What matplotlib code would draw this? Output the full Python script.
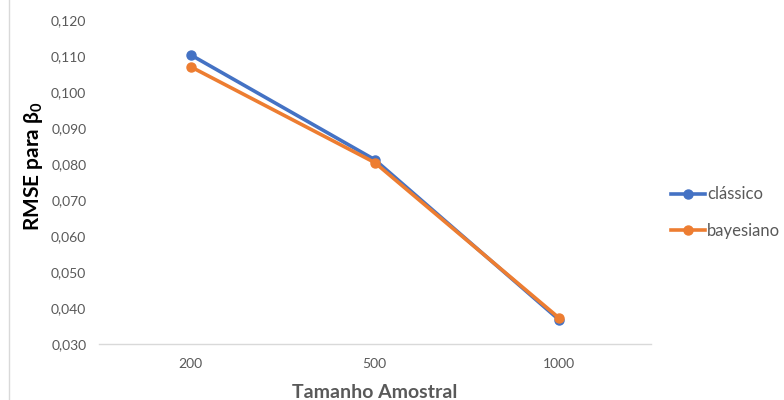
import matplotlib.pyplot as plt
import matplotlib.ticker as mticker
from matplotlib.lines import Line2D

plt.rcParams['font.family'] = ['Lato', 'DejaVu Sans']

tamanhos = ['200', '500', '1000']
classico = [0.1103, 0.0812, 0.0368]
bayesiano = [0.1070, 0.0804, 0.0373]

azul = '#4472C4'
laranja = '#ED7D31'
cinza = '#595959'

fig = plt.figure(figsize=(7.84, 4.0), dpi=100)
ax = fig.add_axes([0.126, 0.14, 0.704, 0.81])

x = range(len(tamanhos))
ax.plot(x, classico, color=azul, lw=2.6, marker='o', ms=6.5, label='clássico')
ax.plot(x, bayesiano, color=laranja, lw=2.6, marker='o', ms=6.5, label='bayesiano')

ax.set_xlim(-0.5, len(tamanhos) - 0.5)
ax.set_ylim(0.030, 0.120)
ax.set_xticks(list(x))
ax.set_xticklabels(tamanhos)
ax.yaxis.set_major_locator(mticker.MultipleLocator(0.010))
ax.yaxis.set_major_formatter(mticker.FuncFormatter(lambda v, p: f'{v:.3f}'.replace('.', ',')))

for s in ['top', 'right', 'left']:
    ax.spines[s].set_visible(False)
ax.spines['bottom'].set_color('#D9D9D9')
ax.spines['bottom'].set_linewidth(1)
ax.tick_params(axis='both', length=0, colors=cinza, labelsize=10)
ax.tick_params(axis='x', pad=10)
ax.tick_params(axis='y', pad=9)

ax.set_xlabel('Tamanho Amostral', fontsize=14, fontweight='bold', color=cinza, labelpad=10)
ax.set_ylabel(r'RMSE para $\mathregular{\beta_0}$', fontsize=15, fontweight='bold',
              color='black')
ax.yaxis.set_label_coords(-0.098, 0.55)

leg = ax.legend(loc='center left', bbox_to_anchor=(1.01, 0.405), frameon=False,
                fontsize=12, labelcolor=cinza, handlelength=2.0, handletextpad=0.15,
                labelspacing=1.25)

# left border of the chart area
fig.add_artist(Line2D([0.011, 0.011], [0.0, 1.0], color='#D9D9D9', lw=1))

fig.savefig('out.png', dpi=100)
